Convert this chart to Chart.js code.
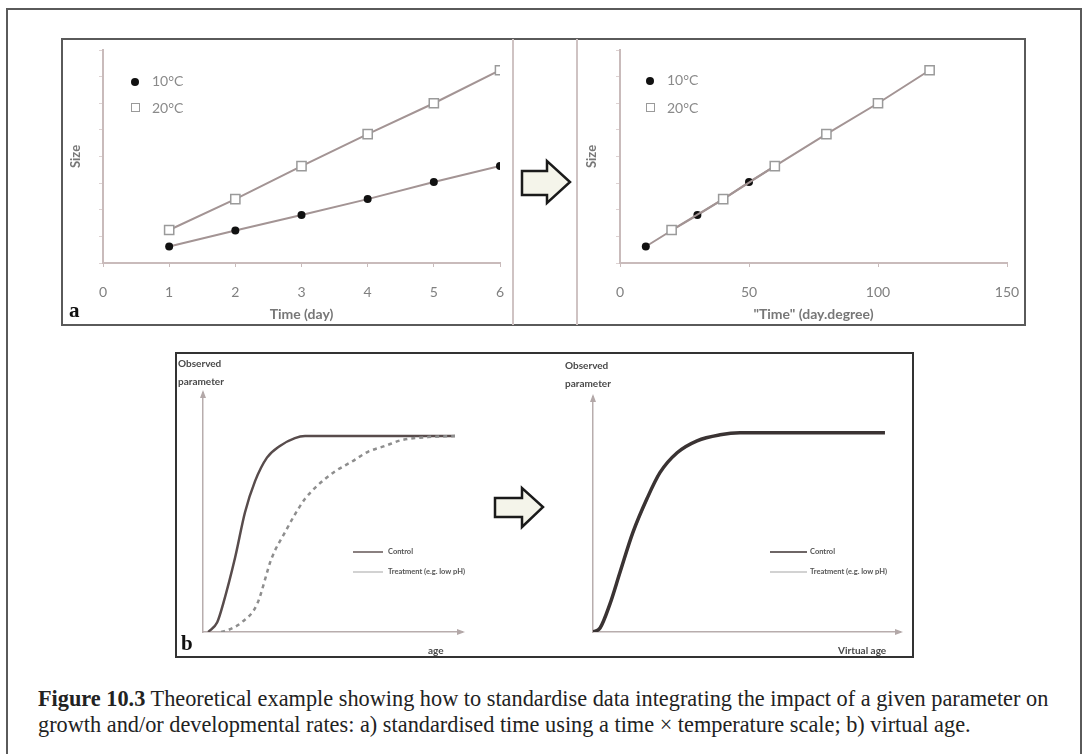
<!DOCTYPE html>
<html>
<head>
<meta charset="utf-8">
<script src="https://cdn.jsdelivr.net/npm/chart.js@4.4.1/dist/chart.umd.min.js"></script>
<style>
  html, body { margin: 0; padding: 0; background: #fff; }
  body { width: 1082px; height: 754px; position: relative; overflow: hidden; font-family: Lato, 'Liberation Sans', sans-serif; }
  .abs { position: absolute; box-sizing: border-box; }
  canvas { position: absolute; }
  #frame { left: 6px; top: 8px; width: 1076px; height: 800px; border: 2px solid #5a5a5a; }
  #panelA { left: 61px; top: 38px; width: 965px; height: 288px; border: 2px solid #5a5a5a; }
  #panelB { left: 175px; top: 352px; width: 739px; height: 306px; border: 2px solid #333; }
  .divider { top: 39px; width: 2px; height: 286px; background: #cfc3c3; }
  .leg { font-size: 14px; color: #8a8a8a; line-height: 16px; }
  .dot { display: inline-block; width: 8px; height: 8px; border-radius: 50%; background: #111; }
  .sq { display: inline-block; width: 9px; height: 9px; border: 1.5px solid #9a9a9a; background: #fff; box-sizing: border-box; }
  .obs { font-size: 10px; font-weight: bold; color: #4a4a4a; line-height: 18px; }
  .small { font-size: 7.5px; font-weight: bold; color: #555; line-height: 10px; white-space: nowrap; }
  .lg-line { height: 1.5px; }
  .tag { font-family: 'Liberation Serif', serif; font-weight: bold; font-size: 21px; color: #111; }
  #caption { left: 38px; top: 686px; width: 1040px; font-family: 'Liberation Serif', serif; font-size: 22.3px; line-height: 26px; color: #222; white-space: nowrap; }
</style>
</head>
<body>
<div class="abs" id="frame"></div>
<div class="abs" id="panelA"></div>
<div class="abs divider" style="left:512px;"></div>
<div class="abs divider" style="left:576px;"></div>
<div class="abs" id="panelB"></div>

<svg class="abs" width="1082" height="754" style="left:0;top:0;">
  <polygon points="522,171 547,171 547,161 570,182 547,203 547,195 522,195" fill="#f4f4ea" stroke="#1a1a1a" stroke-width="2.5" stroke-linejoin="miter"/>
  <polygon points="495,498 522,498 522,488 543,507 522,527 522,517 495,517" fill="#f4f4ea" stroke="#1a1a1a" stroke-width="2.5" stroke-linejoin="miter"/>
</svg>

<canvas id="chart-days" width="450" height="284" style="left:62px;top:39px;"></canvas>
<canvas id="chart-degdays" width="445" height="284" style="left:578px;top:39px;"></canvas>
<canvas id="chart-age" width="294" height="301" style="left:176px;top:355px;"></canvas>
<canvas id="chart-vage" width="350" height="301" style="left:560px;top:355px;"></canvas>

<!-- legends, top row -->
<div class="abs leg" style="left:131px;top:73px;"><span class="dot"></span></div>
<div class="abs leg" style="left:152px;top:73px;">10°C</div>
<div class="abs leg" style="left:131px;top:99px;"><span class="sq"></span></div>
<div class="abs leg" style="left:152px;top:100px;">20°C</div>
<div class="abs leg" style="left:646px;top:72px;"><span class="dot"></span></div>
<div class="abs leg" style="left:667px;top:72px;">10°C</div>
<div class="abs leg" style="left:646px;top:99px;"><span class="sq"></span></div>
<div class="abs leg" style="left:667px;top:100px;">20°C</div>

<div class="abs tag" style="left:69px;top:298px;">a</div>
<div class="abs tag" style="left:181px;top:631px;">b</div>

<!-- bottom row labels -->
<div class="abs obs" style="left:178px;top:354px;">Observed<br>parameter</div>
<div class="abs obs" style="left:565px;top:356px;">Observed<br>parameter</div>
<div class="abs obs" style="left:428px;top:641px;">age</div>
<div class="abs obs" style="left:838px;top:641px;">Virtual age</div>

<div class="abs lg-line" style="left:353px;top:551px;width:30px;background:#8a8080;"></div>
<div class="abs small" style="left:388px;top:547px;">Control</div>
<div class="abs lg-line" style="left:353px;top:571px;width:30px;background:#d2d2d2;"></div>
<div class="abs small" style="left:388px;top:567px;">Treatment (e.g. low pH)</div>
<div class="abs lg-line" style="left:770px;top:551px;width:37px;background:#6e6666;"></div>
<div class="abs small" style="left:810px;top:547px;">Control</div>
<div class="abs lg-line" style="left:770px;top:571px;width:37px;background:#d2d2d2;"></div>
<div class="abs small" style="left:810px;top:567px;">Treatment (e.g. low pH)</div>

<div class="abs" id="caption"><b>Figure 10.3</b> Theoretical example showing how to standardise data integrating the impact of a given parameter on<br>growth and/or developmental rates: a) standardised time using a time × temperature scale; b) virtual age.</div>

<script>
  'use strict';

  // a) size against time, then against degree-days
  var days = [1, 2, 3, 4, 5, 6];
  var size10 = [0.62, 1.22, 1.8, 2.4, 3.04, 3.64];
  var size20 = [1.24, 2.4, 3.64, 4.84, 6.0, 7.24];
  var degDays10 = [10, 20, 30, 40, 50, 60];
  var degDays20 = [20, 40, 60, 80, 100, 120];
  var dayTicks = [0, 1, 2, 3, 4, 5, 6];
  var degTicks = [0, 50, 100, 150];

  // b) observed parameter against age / virtual age (plateau = 1)
  var ageControl = [2, 5.5, 7.7, 12.4, 16.2, 20.1, 24.7, 29.7, 35.5, 39.4, 97.3];
  var obsControl = [0, 0.05, 0.14, 0.38, 0.61, 0.77, 0.89, 0.95, 0.99, 1.0, 1.0];
  var ageTreat = [7, 9.7, 15, 20.8, 26.6, 31.7, 35.5, 39.4, 44.4, 51.0, 57.5, 63.7, 70.3, 76.8, 86.9, 97.3];
  var obsTreat = [0, 0.01, 0.05, 0.14, 0.38, 0.51, 0.60, 0.68, 0.75, 0.82, 0.87, 0.92, 0.95, 0.98, 0.995, 1.0];
  var vAge = [0, 2.3, 5.5, 8.8, 13.0, 17.6, 21.8, 27.4, 33.9, 41.4, 47.9, 95.1];
  var vObsControl = [0, 0.02, 0.14, 0.30, 0.50, 0.67, 0.80, 0.90, 0.96, 0.99, 1.0, 1.0];
  var vObsTreat = [0, 0.02, 0.13, 0.29, 0.49, 0.66, 0.80, 0.90, 0.96, 0.99, 1.0, 1.0];

  var LINE = '#a39494';
  var AXIS = '#c9bbbb';
  var LABEL = '#808080';

  function pairs(xs, ys) {
    return xs.map(function (x, i) { return { x: x, y: ys[i] }; });
  }

  // squares (20°C) are drawn over the dots, as in the figure
  function pointSet(label, xs, ys, filled) {
    return {
      label: label,
      data: pairs(xs, ys),
      order: filled ? 1 : 0,
      borderColor: LINE,
      borderWidth: 2,
      pointStyle: filled ? 'circle' : 'rect',
      pointRadius: filled ? 4 : 6.5,
      pointBackgroundColor: filled ? '#111' : '#fff',
      pointBorderColor: filled ? '#111' : '#9a9a9a',
      pointBorderWidth: filled ? 0 : 1.5,
      tension: 0
    };
  }

  function topOptions(xMax, xTicks, yWidth, rightPad, xTitle, titlePad) {
    return {
      responsive: false,
      animation: false,
      layout: { padding: { top: 11, right: rightPad, left: 0, bottom: 0 } },
      plugins: { legend: { display: false }, tooltip: { enabled: false } },
      scales: {
        x: {
          type: 'linear', min: 0, max: xMax,
          afterBuildTicks: function (s) { s.ticks = xTicks.map(function (v) { return { value: v }; }); },
          afterFit: function (s) { s.height = 60; s.paddingLeft = 0; s.paddingRight = 0; },
          ticks: { color: LABEL, font: { family: 'Lato', size: 14 }, padding: 17 },
          grid: { drawOnChartArea: false, tickLength: 4, color: AXIS },
          border: { color: AXIS, width: 2 },
          title: { display: true, text: xTitle, color: '#777', font: { family: 'Lato', size: 14, weight: 'bold' }, padding: { top: 0, bottom: 0 } }
        },
        y: {
          min: 0, max: 8,
          afterFit: function (s) { s.width = yWidth; },
          ticks: { display: false, stepSize: 1 },
          grid: { drawOnChartArea: false, tickLength: 4, color: '#ddd2d2' },
          border: { color: AXIS, width: 2 },
          title: { display: true, text: 'Size', color: '#777', font: { family: 'Lato', size: 13, weight: 'bold' }, padding: { top: titlePad, bottom: 0 } }
        }
      }
    };
  }

  new Chart(document.getElementById('chart-days'), {
    type: 'line',
    data: { datasets: [pointSet('10°C', days, size10, true), pointSet('20°C', days, size20, false)] },
    options: topOptions(6, dayTicks, 41, 12, 'Time (day)', 6)
  });

  new Chart(document.getElementById('chart-degdays'), {
    type: 'line',
    data: { datasets: [pointSet('10°C', degDays10, size10, true), pointSet('20°C', degDays20, size20, false)] },
    options: topOptions(150, degTicks, 42, 16, '"Time" (day.degree)', 6)
  });

  // small arrow heads at the ends of the schematic axes
  var axisArrows = {
    id: 'axisArrows',
    afterDraw: function (chart) {
      var a = chart.chartArea, ctx = chart.ctx;
      ctx.save();
      ctx.fillStyle = '#b3a8a8';
      ctx.beginPath();
      ctx.moveTo(a.left, a.top - 3);
      ctx.lineTo(a.left - 3, a.top + 5);
      ctx.lineTo(a.left + 3, a.top + 5);
      ctx.fill();
      ctx.beginPath();
      ctx.moveTo(a.right + 3, a.bottom);
      ctx.lineTo(a.right - 5, a.bottom - 3);
      ctx.lineTo(a.right - 5, a.bottom + 3);
      ctx.fill();
      ctx.restore();
    }
  };

  function curveOptions(yMax, yWidth, topPad, rightPad) {
    return {
      responsive: false,
      animation: false,
      layout: { padding: { top: topPad, right: rightPad, left: 0, bottom: 0 } },
      plugins: { legend: { display: false }, tooltip: { enabled: false } },
      elements: { point: { radius: 0 } },
      scales: {
        x: {
          type: 'linear', min: 0, max: 100,
          afterFit: function (s) { s.height = 24; s.paddingLeft = 0; s.paddingRight = 0; },
          ticks: { display: false },
          grid: { drawOnChartArea: false, drawTicks: false },
          border: { color: '#b8adad', width: 1.5 }
        },
        y: {
          min: 0, max: yMax,
          afterFit: function (s) { s.width = yWidth; },
          ticks: { display: false },
          grid: { drawOnChartArea: false, drawTicks: false },
          border: { color: '#b8adad', width: 1.5 }
        }
      }
    };
  }

  new Chart(document.getElementById('chart-age'), {
    type: 'line',
    data: {
      datasets: [
        { label: 'Treatment (e.g. low pH)', data: pairs(ageTreat, obsTreat), borderColor: '#8e8e8e', borderWidth: 2.5, borderDash: [4, 4], cubicInterpolationMode: 'monotone' },
        { label: 'Control', data: pairs(ageControl, obsControl), borderColor: '#584c4c', borderWidth: 2.5, cubicInterpolationMode: 'monotone' }
      ]
    },
    options: curveOptions(1.22, 27, 38, 8),
    plugins: [axisArrows]
  });

  new Chart(document.getElementById('chart-vage'), {
    type: 'line',
    data: {
      datasets: [
        { label: 'Control', data: pairs(vAge, vObsControl), borderColor: '#3a3333', borderWidth: 3.5, cubicInterpolationMode: 'monotone' },
        { label: 'Treatment (e.g. low pH)', data: pairs(vAge, vObsTreat), borderColor: '#b8b8b8', borderWidth: 1.2, cubicInterpolationMode: 'monotone' }
      ]
    },
    options: curveOptions(1.18, 33, 42, 10),
    plugins: [axisArrows]
  });
</script>
</body>
</html>
